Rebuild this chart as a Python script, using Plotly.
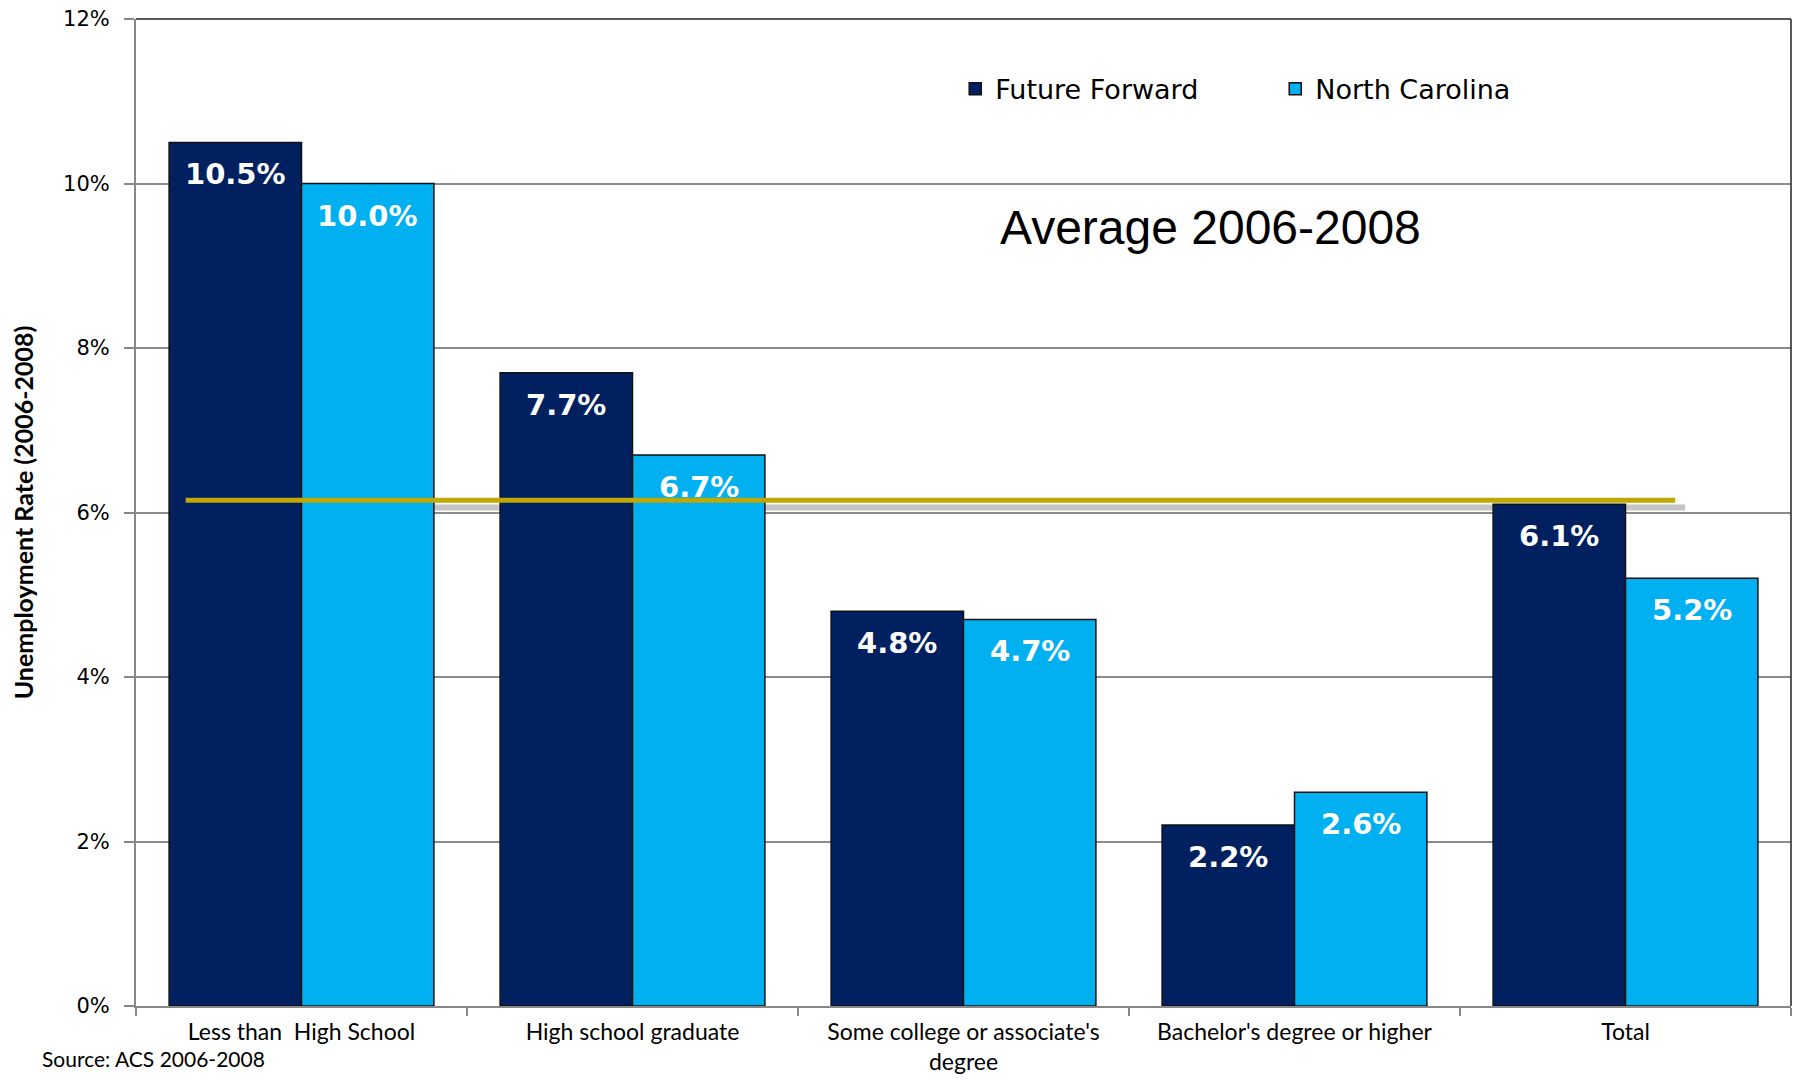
import plotly.graph_objects as go

categories = ["Less than  High School", "High school graduate",
              "Some college or associate's<br>degree", "Bachelor's degree or higher", "Total"]
future_forward = [10.5, 7.7, 4.8, 2.2, 6.1]
north_carolina = [10.0, 6.7, 4.7, 2.6, 5.2]
series_names = ["Future Forward", "North Carolina"]
y_ticks = [0, 2, 4, 6, 8, 10, 12]
y_tick_labels = ["0%", "2%", "4%", "6%", "8%", "10%", "12%"]
ref_line_value = 6.15
ref_line_span = [-0.35, 4.15]

DARK = "#002060"
LIGHT = "#00B0F0"

fig = go.Figure()
fig.add_trace(go.Bar(x=categories, y=future_forward, name=series_names[0],
                     marker=dict(color=DARK, line=dict(color="#111111", width=1.5))))
fig.add_trace(go.Bar(x=categories, y=north_carolina, name=series_names[1],
                     marker=dict(color=LIGHT, line=dict(color="#111111", width=1.5))))

annotations = []
for s, vals in enumerate([future_forward, north_carolina]):
    off = -0.2 if s == 0 else 0.2
    for i, v in enumerate(vals):
        annotations.append(dict(x=i + off, y=v, xref="x", yref="y", text=f"{v:.1f}%",
                                showarrow=False, yshift=-32, yanchor="middle",
                                font=dict(family="DejaVu Sans", size=29, color="white", weight="bold")))

annotations.append(dict(x=0.6495, y=0.789, xref="paper", yref="paper", text="Average 2006-2008",
                        showarrow=False, xanchor="center", yanchor="middle",
                        font=dict(family="Liberation Sans", size=48, color="black")))
annotations.append(dict(x=-0.058, y=-0.068, xref="paper", yref="paper", text="Source: ACS 2006-2008",
                        showarrow=False, xanchor="left", yanchor="bottom",
                        font=dict(family="Lato", size=21, color="black")))

shapes = [
    # shadow below the reference line
    dict(type="line", xref="x", yref="y", x0=ref_line_span[0], x1=ref_line_span[1] + 0.03,
         y0=ref_line_value - 0.09, y1=ref_line_value - 0.09,
         line=dict(color="#C4C4C4", width=6), layer="below"),
    dict(type="line", xref="x", yref="y", x0=ref_line_span[0], x1=ref_line_span[1],
         y0=ref_line_value, y1=ref_line_value,
         line=dict(color="#BFA800", width=5), layer="above"),
    # plot frame top & right
    dict(type="line", xref="paper", yref="paper", x0=0, x1=1, y0=1, y1=1,
         line=dict(color="#222222", width=1.5)),
    dict(type="line", xref="paper", yref="paper", x0=1, x1=1, y0=0, y1=1,
         line=dict(color="#222222", width=1.5)),
]

fig.update_layout(
    width=1784, height=1066,
    margin=dict(l=128, r=1, t=11, b=68),
    paper_bgcolor="white", plot_bgcolor="white",
    barmode="group", bargap=0.2, bargroupgap=0,
    showlegend=True,
    legend=dict(orientation="h", x=0.495, y=0.929, xanchor="left", yanchor="middle",
                font=dict(family="DejaVu Sans", size=27, color="black"),
                entrywidth=275, entrywidthmode="pixels", bgcolor="rgba(0,0,0,0)"),
    annotations=annotations,
    shapes=shapes,
    xaxis=dict(type="category", tickson="boundaries", ticks="outside", ticklen=8,
               tickcolor="#888888", tickwidth=2, showline=True, linecolor="#888888", linewidth=2,
               tickfont=dict(family="Lato", size=23, color="black"), ticklabelstandoff=4,
               showgrid=False, automargin=False, ticklabeloverflow="allow"),
    yaxis=dict(range=[0, 12], tickvals=y_ticks, ticktext=y_tick_labels, ticks="outside",
               ticklen=10, tickcolor="#888888", tickwidth=2, showline=True, linecolor="#888888",
               linewidth=2, showgrid=True, gridcolor="#8C8C8C", gridwidth=1.5, zeroline=False,
               tickfont=dict(family="DejaVu Sans", size=21, color="black"), automargin=False,
               ticklabelstandoff=10, ticklabeloverflow="allow",
               title=dict(text="<b>Unemployment Rate (2006-2008)</b>", standoff=23,
                          font=dict(family="Lato", size=25, color="black"))),
)

fig.write_html("out.html")
